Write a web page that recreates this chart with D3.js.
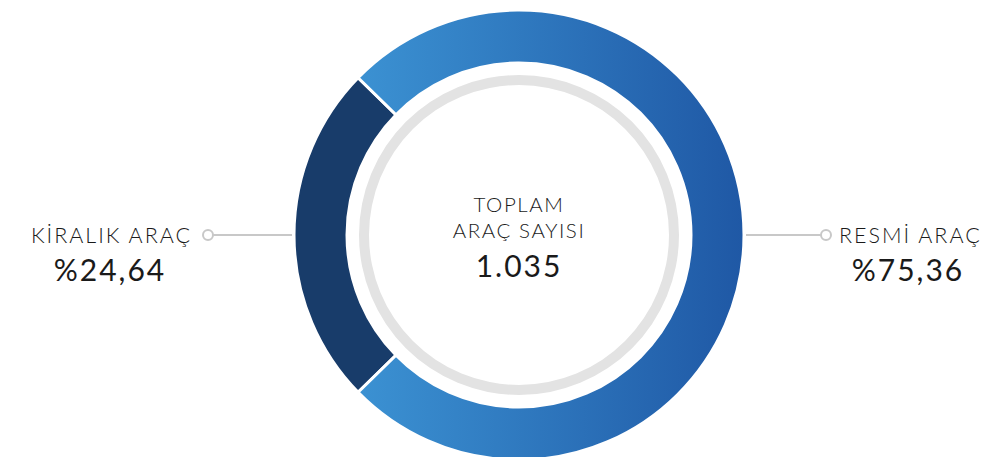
<!DOCTYPE html>
<html>
<head>
<meta charset="utf-8">
<script src="https://cdn.jsdelivr.net/npm/d3@7"></script>
<style>
  body { margin: 0; background: #fff; }
  svg text { font-family: "Lato", "Open Sans", sans-serif; fill: #1a1a1a; }
</style>
</head>
<body>
<svg id="chart" width="996" height="457"></svg>
<script>
// chart values
const categories = ['KİRALIK ARAÇ', 'RESMİ ARAÇ'];
const shares = [24.64, 75.36];
const shareLabels = ['%24,64', '%75,36'];
const centerLines = ['TOPLAM', 'ARAÇ SAYISI'];
const total = '1.035';

const svg = d3.select('#chart');
const cx = 519, cy = 235;
const outerR = 225, innerR = 172;

// gradient for the large segment (coords in the translated group's space)
const defs = svg.append('defs');
const grad = defs.append('linearGradient')
    .attr('id', 'blueGrad')
    .attr('gradientUnits', 'userSpaceOnUse')
    .attr('x1', -outerR * 0.7).attr('y1', 0)
    .attr('x2', outerR).attr('y2', 0);
grad.append('stop').attr('offset', '0%').attr('stop-color', '#3b91d2');
grad.append('stop').attr('offset', '100%').attr('stop-color', '#1f58a5');

const g = svg.append('g').attr('transform', `translate(${cx},${cy})`);

// pie rotated so the small slice is centred on the left
const smallAngle = shares[0] / 100 * 2 * Math.PI;
const pie = d3.pie().sort(null).value(d => d)
    .startAngle(-Math.PI / 2 - smallAngle / 2)
    .endAngle(-Math.PI / 2 - smallAngle / 2 + 2 * Math.PI);

const arc = d3.arc().innerRadius(innerR).outerRadius(outerR);
const colors = ['#183c6a', 'url(#blueGrad)'];

g.selectAll('path.slice')
    .data(pie(shares))
    .enter()
    .append('path')
    .attr('class', 'slice')
    .attr('d', arc)
    .attr('fill', (d, i) => colors[i])
    .attr('stroke', '#fff')
    .attr('stroke-width', 3);

// grey inner ring
g.append('path')
    .attr('d', d3.arc().innerRadius(150).outerRadius(160).startAngle(0).endAngle(2 * Math.PI)())
    .attr('fill', '#e3e3e3');

// centre text
g.selectAll('text.center')
    .data(centerLines)
    .enter()
    .append('text')
    .attr('class', 'center')
    .attr('text-anchor', 'middle')
    .attr('y', (d, i) => -23 + i * 26)
    .style('font-size', '20.5px')
    .style('font-weight', 300)
    .style('letter-spacing', '1.6px')
    .text(d => d);
g.append('text')
    .attr('text-anchor', 'middle')
    .attr('y', 42)
    .style('font-size', '30px')
    .style('font-weight', 400)
    .style('letter-spacing', '2px')
    .text(total);

// connectors and side labels
const side = [
  {x1: -outerR - 2, x2: -311, textX: -327, anchor: 'end', pctX: -409},
  {x1: outerR + 2, x2: 307, textX: 320, anchor: 'start', pctX: 389}
];

side.forEach((s, i) => {
  g.append('line')
      .attr('x1', s.x1).attr('x2', s.x2)
      .attr('y1', 0).attr('y2', 0)
      .attr('stroke', '#c8c8c8').attr('stroke-width', 2);
  g.append('circle')
      .attr('cx', s.x2).attr('cy', 0).attr('r', 5)
      .attr('fill', '#fff').attr('stroke', '#c8c8c8').attr('stroke-width', 2);
  g.append('text')
      .attr('x', s.textX).attr('y', 8)
      .attr('text-anchor', s.anchor)
      .style('font-size', '21.5px')
      .style('font-weight', 300)
      .style('letter-spacing', '2px')
      .text(categories[i]);
  g.append('text')
      .attr('x', s.pctX).attr('y', 46)
      .attr('text-anchor', 'middle')
      .style('font-size', '30px')
      .style('font-weight', 400)
      .style('letter-spacing', '2px')
      .text(shareLabels[i]);
});
</script>
</body>
</html>
